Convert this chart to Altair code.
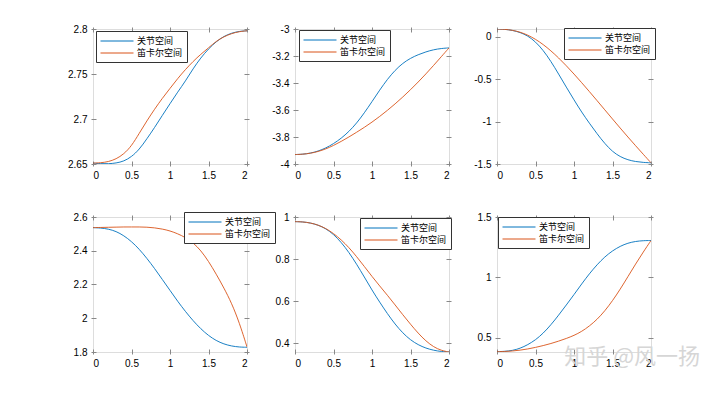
import altair as alt
import pandas as pd

# sample times (s)
T = [0.0, 0.1, 0.2, 0.3, 0.4, 0.5, 0.6, 0.7, 0.8, 0.9, 1.0,
     1.1, 1.2, 1.3, 1.4, 1.5, 1.6, 1.7, 1.8, 1.9, 2.0]
SERIES = ["关节空间", "笛卡尔空间"]
COLORS = ["#0072BD", "#D95319"]
X_TICKS = [0, 0.5, 1, 1.5, 2]

p1_joint = [2.651, 2.6503, 2.6502, 2.6510, 2.6530, 2.6580, 2.6660, 2.6780, 2.6905, 2.7040, 2.7170,
            2.7300, 2.7420, 2.7560, 2.7680, 2.7780, 2.7860, 2.7920, 2.7955, 2.7975, 2.7980]
p1_cart = [2.651, 2.6513, 2.6525, 2.6555, 2.6610, 2.6700, 2.6840, 2.6980, 2.7110, 2.7230, 2.7340,
           2.7450, 2.7550, 2.7640, 2.7720, 2.7790, 2.7865, 2.7915, 2.7950, 2.7972, 2.7980]
p1_ticks = [2.65, 2.7, 2.75, 2.8]
p1_domain = [2.65, 2.8]

p2_joint = [-3.93, -3.928, -3.92, -3.905, -3.882, -3.85, -3.81, -3.76, -3.698, -3.622, -3.538,
            -3.452, -3.372, -3.305, -3.253, -3.216, -3.19, -3.169, -3.153, -3.144, -3.14]
p2_cart = [-3.93, -3.928, -3.921, -3.908, -3.889, -3.863, -3.833, -3.80, -3.765, -3.729, -3.69,
           -3.648, -3.603, -3.555, -3.504, -3.45, -3.393, -3.333, -3.27, -3.205, -3.14]
p2_ticks = [-4, -3.8, -3.6, -3.4, -3.2, -3]
p2_domain = [-4, -3]

p3_joint = [0.09, 0.087, 0.075, 0.05, 0.01, -0.06, -0.16, -0.29, -0.44, -0.595, -0.745,
            -0.89, -1.02, -1.145, -1.26, -1.355, -1.415, -1.452, -1.472, -1.482, -1.486]
p3_cart = [0.09, 0.087, 0.076, 0.054, 0.019, -0.03, -0.092, -0.166, -0.25, -0.342, -0.44,
           -0.542, -0.647, -0.754, -0.862, -0.97, -1.077, -1.182, -1.285, -1.386, -1.486]
p3_ticks = [-1.5, -1, -0.5, 0]
p3_domain = [-1.5, 0.09]

p4_joint = [2.537, 2.535, 2.529, 2.515, 2.49, 2.455, 2.41, 2.355, 2.295, 2.23, 2.165,
            2.1, 2.04, 1.985, 1.937, 1.897, 1.867, 1.847, 1.835, 1.829, 1.828]
p4_cart = [2.537, 2.538, 2.539, 2.540, 2.541, 2.541, 2.541, 2.540, 2.536, 2.529, 2.518,
           2.501, 2.479, 2.448, 2.402, 2.338, 2.262, 2.18, 2.09, 1.975, 1.83]
p4_ticks = [1.8, 2, 2.2, 2.4, 2.6]
p4_domain = [1.8, 2.6]

p5_joint = [0.978, 0.977, 0.972, 0.962, 0.945, 0.918, 0.88, 0.832, 0.776, 0.715, 0.652,
            0.595, 0.54, 0.49, 0.448, 0.415, 0.392, 0.376, 0.366, 0.36, 0.358]
p5_cart = [0.978, 0.977, 0.972, 0.962, 0.946, 0.922, 0.892, 0.855, 0.812, 0.765, 0.717,
           0.672, 0.628, 0.582, 0.535, 0.49, 0.447, 0.41, 0.382, 0.365, 0.358]
p5_ticks = [0.4, 0.6, 0.8, 1]
p5_domain = [0.358, 1]

p6_joint = [0.383, 0.385, 0.392, 0.41, 0.44, 0.48, 0.535, 0.605, 0.685, 0.77, 0.856,
            0.945, 1.03, 1.105, 1.17, 1.22, 1.258, 1.284, 1.298, 1.304, 1.305]
p6_cart = [0.383, 0.384, 0.388, 0.395, 0.405, 0.418, 0.433, 0.45, 0.47, 0.492, 0.517,
           0.55, 0.595, 0.65, 0.72, 0.805, 0.9, 1.005, 1.11, 1.21, 1.305]
p6_ticks = [0.5, 1, 1.5]
p6_domain = [0.38, 1.5]

LABEL_EXPR = "replace(datum.label, '\u2212', '-')"
FRAME = "#7f7f7f"


def panel(joint, cart, domain, ticks, lx, ly, h):
    df = pd.DataFrame({
        "t": T + T,
        "v": joint + cart,
        "s": [SERIES[0]] * len(T) + [SERIES[1]] * len(T),
    })
    xs = alt.Scale(domain=[0, 2], nice=False, zero=False)
    ys = alt.Scale(domain=domain, nice=False, zero=False)
    base = alt.Chart(df)
    lines = base.mark_line(strokeWidth=0.9, interpolate="basis", clip=True).encode(
        x=alt.X("t:Q", scale=xs, axis=alt.Axis(orient="bottom", values=X_TICKS, format="~g",
                                               offset=-3, title=None, labelPadding=4,
                                               grid=False, domain=False)),
        y=alt.Y("v:Q", scale=ys, axis=alt.Axis(orient="left", values=ticks, format="~g",
                                               labelExpr=LABEL_EXPR, offset=-3, title=None,
                                               labelPadding=4, grid=False, domain=False)),
        color=alt.Color("s:N", scale=alt.Scale(domain=SERIES, range=COLORS),
                        legend=alt.Legend(title=None, orient="none", legendX=lx, legendY=ly,
                                          strokeColor="#333333", fillColor="white",
                                          padding=4, rowPadding=1, symbolType="M-1,0H5",
                                          symbolSize=121, symbolStrokeWidth=1,
                                          labelFont="Noto Sans CJK SC", labelFontSize=9,
                                          labelColor="#000000", labelOffset=25)),
    )
    ghost = base.mark_line(opacity=0).encode(
        x=alt.X("t:Q", scale=xs, axis=alt.Axis(orient="top", values=X_TICKS, labels=False,
                                               offset=-3, title=None, grid=False, domain=False)),
        y=alt.Y("v:Q", scale=ys, axis=alt.Axis(orient="right", values=ticks, labels=False,
                                               offset=-3, title=None, grid=False, domain=False)),
        detail="s:N",
    )
    return alt.layer(lines, ghost).resolve_axis(x="independent", y="independent").properties(
        width=154, height=h)


charts = [
    panel(p1_joint, p1_cart, p1_domain, p1_ticks, 3, 2, 135),
    panel(p2_joint, p2_cart, p2_domain, p2_ticks, 4, 1, 135),
    panel(p3_joint, p3_cart, p3_domain, p3_ticks, 67, -1, 135),
    panel(p4_joint, p4_cart, p4_domain, p4_ticks, 91, -5, 135),
    panel(p5_joint, p5_cart, p5_domain, p5_ticks, 65, 1, 135),
    panel(p6_joint, p6_cart, p6_domain, p6_ticks, 1, 0, 135),
]

chart = alt.concat(
    *charts, columns=3, spacing={"row": 53, "column": 48}, bounds="flush",
    title=alt.Title("知乎 @风一扬", orient="bottom", anchor="end", font="Noto Sans CJK SC",
                    fontSize=22, fontWeight="normal", color="#d6d6d6", offset=-22, dx=44),
).resolve_legend(color="independent").properties(
    padding={"left": 59, "top": 15, "right": 5, "bottom": 5}
).configure_axis(
    domain=False, grid=False, tickSize=3, tickColor=FRAME, labelFont="Liberation Sans",
    labelFontSize=10.5, labelColor="#262626", labelFlush=False, labelOverlap=False,
).configure_view(stroke=FRAME, strokeWidth=1).configure(background="white")

chart.save("out.html", embed_options={"renderer": "svg", "actions": False})
